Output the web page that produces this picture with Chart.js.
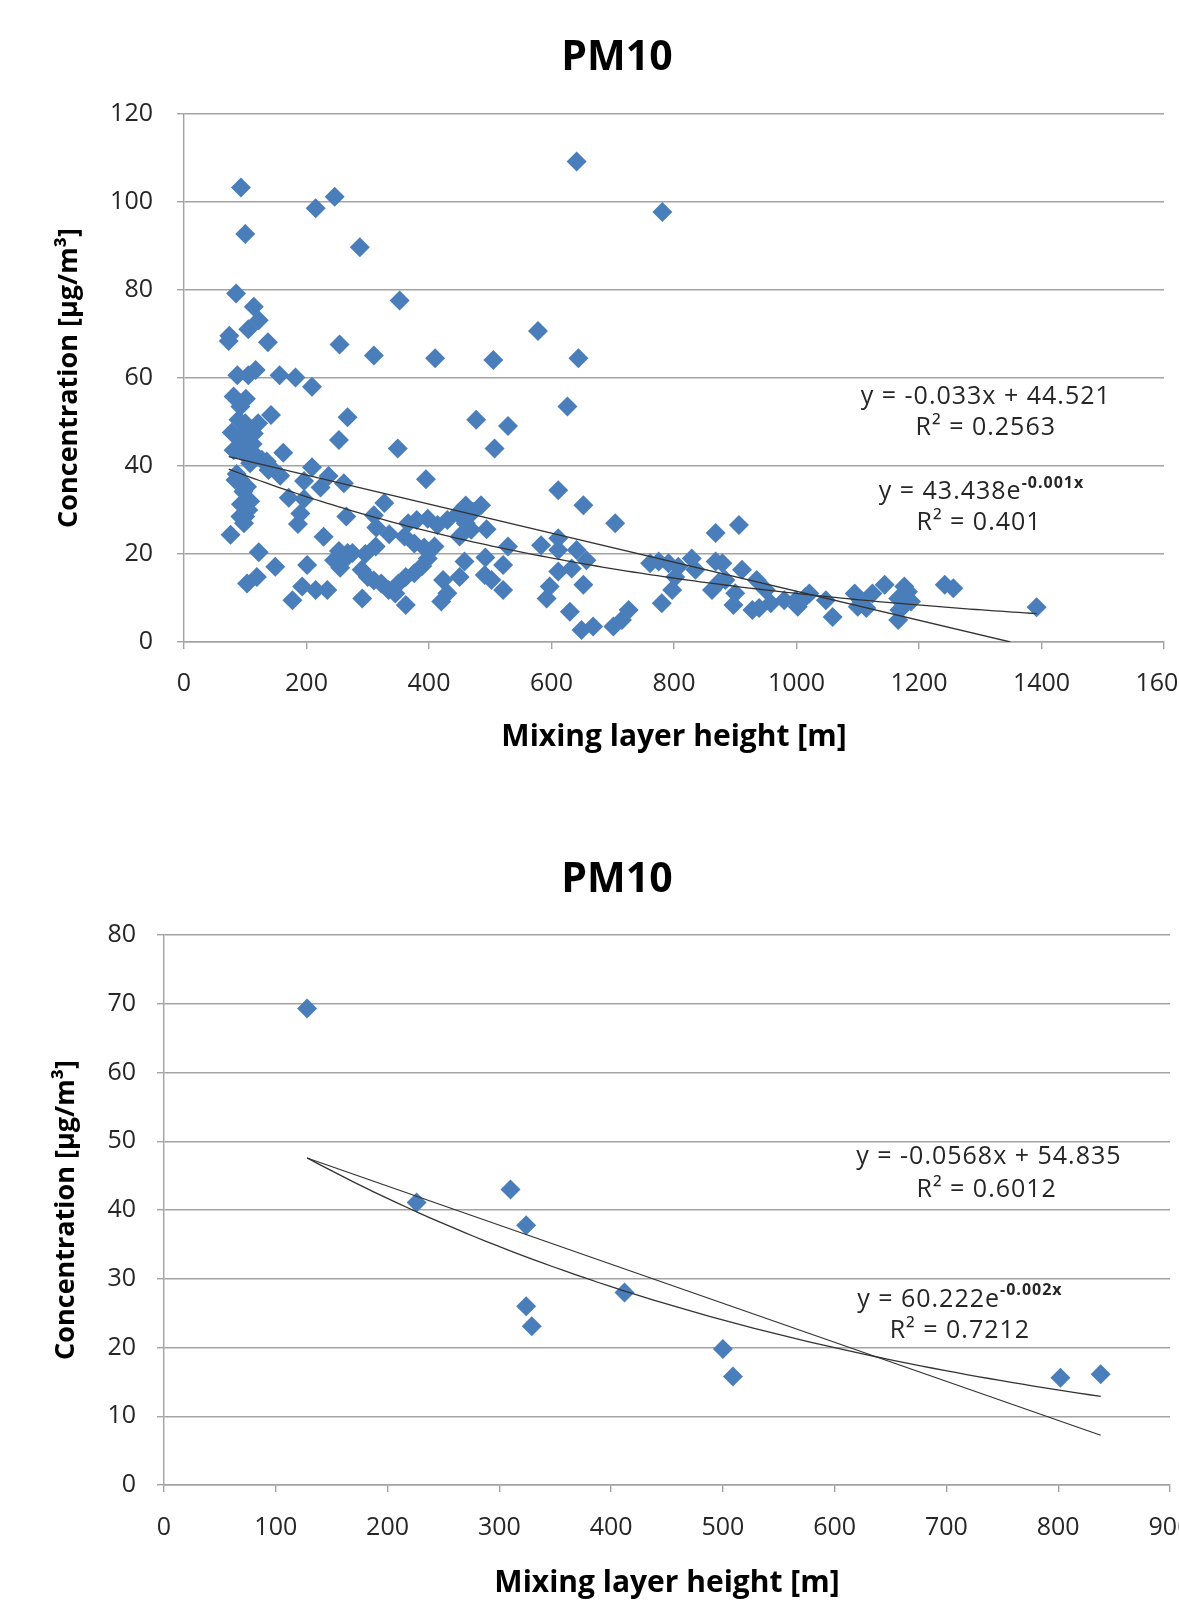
<!DOCTYPE html>
<html>
<head>
<meta charset="utf-8">
<script src="https://cdn.jsdelivr.net/npm/chart.js@4.4.1/dist/chart.umd.min.js"></script>
<style>
  html, body { margin: 0; padding: 0; background: #fff; width: 1179px; height: 1600px; overflow: hidden; }
  canvas { position: absolute; left: 0; }
  #topChart { top: 0; }
  #bottomChart { top: 800px; }
</style>
</head>
<body>
<canvas id="topChart" width="1220" height="780"></canvas>
<canvas id="bottomChart" width="1220" height="820"></canvas>
<script>
// mixing layer height [m] / concentration [ug/m3]
const topX = [
  93, 100, 215, 246, 287, 641, 781, 85, 114, 122, 105, 74, 73, 137, 352, 254, 310, 410, 578, 505, 644,
  87, 105, 117, 156, 182, 209, 81, 101, 92, 142, 267, 89, 100, 121, 78, 104, 114, 92, 253, 349, 477,
  529, 507, 626, 87, 81, 97, 111, 119, 127, 135, 162, 108, 112, 95, 141, 138, 209, 157, 236, 196, 223,
  261, 395, 92, 84, 86, 103, 97, 171, 196, 93, 105, 108, 327, 611, 652, 460, 485, 190, 186, 265, 100,
  92, 98, 76, 228, 310, 314, 335, 360, 366, 380, 398, 414, 430, 447, 472, 460, 469, 450, 494, 704, 868,
  906, 122, 253, 267, 275, 296, 313, 376, 392, 409, 529, 583, 611, 611, 641, 245, 261, 255, 149, 201,
  103, 119, 193, 215, 234, 290, 300, 310, 322, 334, 345, 350, 362, 376, 389, 398, 423, 430, 450, 458,
  492, 491, 521, 502, 521, 657, 633, 611, 597, 652, 761, 775, 791, 807, 829, 835, 802, 797, 868, 879,
  873, 862, 884, 911, 900, 935, 950, 1021, 1015, 1095, 1124, 1144, 1176, 1182, 1242, 1256, 177, 291,
  362, 420, 592, 630, 649, 668, 701, 715, 726, 780, 897, 928, 939, 958, 980, 999, 1002, 1048, 1059,
  1100, 1105, 1114, 1166, 1168, 1166, 1174, 1187, 1392
];
const topY = [
  103.3, 92.7, 98.6, 101.2, 89.7, 109.2, 97.7, 79.2, 76.2, 73.1, 71.1, 69.6, 68.4, 68.1, 77.6, 67.6, 65.1, 64.5, 70.7, 64.1, 64.5,
  60.6, 60.6, 61.8, 60.6, 60.1, 58.0, 55.8, 55.3, 53.5, 51.6, 51.1, 50.5, 49.7, 49.7, 47.6, 48.4, 47.4, 45.9, 45.9, 44.0, 50.5,
  49.1, 44.0, 53.5, 43.8, 43.6, 42.9, 42.1, 42.1, 41.4, 41.0, 43.0, 40.6, 45.0, 46.5, 39.8, 39.1, 39.7, 37.8, 37.7, 36.6, 35.1,
  36.1, 37.0, 36.8, 36.8, 38.2, 35.3, 34.2, 32.8, 32.5, 31.3, 30.0, 32.0, 31.6, 34.5, 31.1, 31.0, 31.1, 29.2, 26.8, 28.5, 28.5,
  28.5, 27.0, 24.4, 23.9, 28.8, 26.0, 24.5, 24.0, 27.0, 27.7, 28.0, 26.6, 27.7, 29.2, 29.6, 27.0, 25.5, 24.0, 25.6, 27.0, 24.8,
  26.6, 20.4, 20.7, 20.2, 20.2, 20.0, 21.7, 22.4, 21.5, 21.7, 21.7, 22.0, 23.6, 20.9, 20.9, 18.6, 18.6, 16.9, 17.1, 17.5,
  13.3, 14.8, 12.6, 11.8, 11.8, 16.4, 14.8, 14.0, 13.3, 11.8, 11.0, 13.3, 14.8, 15.6, 17.3, 19.0, 14.1, 11.1, 14.8, 18.3,
  19.2, 15.2, 17.5, 14.1, 11.8, 18.6, 16.7, 16.0, 12.6, 13.0, 17.9, 18.3, 17.9, 17.1, 19.0, 16.4, 14.8, 11.8, 18.3, 17.9,
  13.5, 11.8, 14.1, 16.4, 11.1, 14.1, 11.8, 11.0, 10.3, 11.0, 11.0, 13.0, 12.6, 11.4, 13.0, 12.2, 9.5, 9.9,
  8.4, 9.2, 9.9, 6.9, 2.7, 3.5, 3.5, 5.0, 7.3, 8.8, 8.4, 7.3, 7.7, 8.8, 9.5, 9.5, 8.0, 9.5, 5.7,
  8.0, 9.5, 7.7, 9.9, 7.3, 5.0, 8.0, 9.2, 7.9
];
const bottomX = [128, 226, 310, 324, 324, 329, 412, 500, 509, 802, 838];
const bottomY = [69.3, 41.1, 43.0, 37.8, 26.0, 23.1, 28.0, 19.8, 15.8, 15.6, 16.1];

// trend lines: [slope, intercept] and [coefficient, exponent]
// (exponent, the label shows it rounded)
const topLinear = [-0.033, 44.521];
const topExp = [43.438, -0.00137];
const bottomLinear = [-0.0568, 54.835];
const bottomExp = [60.222, -0.00184];

const FONT = "'Open Sans', sans-serif";
const GRID = '#a3a3a3';
const BLUE = '#4A7EBB';

function points(xs, ys) {
  return xs.map((x, i) => ({ x: x, y: ys[i] }));
}

function linearLine(c, x0, x1) {
  const xEnd = Math.min(x1, -c[1] / c[0]);
  return [{ x: x0, y: c[0] * x0 + c[1] }, { x: xEnd, y: c[0] * xEnd + c[1] }];
}

function expLine(c, x0, x1) {
  const out = [];
  for (let x = x0; x < x1; x += 10) out.push({ x: x, y: c[0] * Math.exp(c[1] * x) });
  out.push({ x: x1, y: c[0] * Math.exp(c[1] * x1) });
  return out;
}

const chartTexts = {
  id: 'chartTexts',
  afterDatasetsDraw(chart, args, opts) {
    const ctx = chart.ctx;
    const xs = chart.scales.x, ys = chart.scales.y;
    ctx.save();
    ctx.textBaseline = 'middle';
    ctx.fillStyle = '#000';
    ctx.textAlign = 'center';
    ctx.font = 'bold 41px ' + FONT;
    ctx.fillText(opts.title, opts.titleX, opts.titleY);

    ctx.fillStyle = '#262626';
    ctx.letterSpacing = '1px';
    opts.labels.forEach(l => {
      const px = xs.getPixelForValue(l.x);
      const py = ys.getPixelForValue(l.y);
      ctx.font = '25px ' + FONT;
      const w1 = ctx.measureText(l.text).width;
      let w2 = 0;
      if (l.sup) {
        ctx.font = 'bold 16px ' + FONT;
        w2 = ctx.measureText(l.sup).width;
      }
      const x0 = px - (w1 + w2) / 2;
      ctx.textAlign = 'left';
      ctx.font = '25px ' + FONT;
      ctx.fillText(l.text, x0, py);
      if (l.sup) {
        ctx.font = 'bold 16px ' + FONT;
        ctx.fillText(l.sup, x0 + w1, py - 9);
      }
    });
    ctx.restore();
  }
};

function makeConfig(o) {
  return {
    type: 'scatter',
    data: {
      datasets: [
        { data: o.lin, showLine: true, pointRadius: 0, borderColor: '#333', borderWidth: 1.3, fill: false },
        { data: o.exp, showLine: true, pointRadius: 0, borderColor: '#333', borderWidth: 1.3, fill: false },
        { data: o.pts, pointStyle: 'rectRot', pointRadius: 10, backgroundColor: BLUE, borderWidth: 0 }
      ]
    },
    options: {
      responsive: false,
      animation: false,
      devicePixelRatio: 1,
      layout: { padding: { left: 0, right: o.padRight, top: o.padTop, bottom: 0 } },
      plugins: {
        legend: { display: false },
        tooltip: { enabled: false },
        title: { display: false },
        chartTexts: { title: 'PM10', titleX: 617, titleY: o.titleY, labels: o.labels }
      },
      scales: {
        x: {
          type: 'linear', min: 0, max: o.xMax,
          ticks: { stepSize: o.xStep, padding: o.xTickPad, color: '#262626', format: { useGrouping: false }, font: { family: FONT, size: 25 } },
          grid: { drawOnChartArea: false, drawTicks: true, tickLength: 7, color: GRID, lineWidth: 1.4 },
          border: { color: GRID, width: 1.4 },
          title: {
            display: true, text: 'Mixing layer height [m]', color: '#000',
            font: { family: FONT, size: 30, weight: 'bold', lineHeight: 1.2 },
            padding: { top: 0, bottom: o.xTitlePad }
          },
          afterFit(s) { s.height = o.xHeight; }
        },
        y: {
          min: 0, max: o.yMax,
          ticks: { stepSize: 10 * Math.round(o.yMax / 60), padding: o.yTickPad, color: '#262626', font: { family: FONT, size: 25 } },
          grid: { color: GRID, lineWidth: 1.4, tickLength: 7 },
          border: { color: GRID, width: 1.4 },
          title: {
            display: true, text: 'Concentration [μg/m³]', color: '#000',
            font: { family: FONT, size: 27, weight: 'bold', lineHeight: 1.2 },
            padding: { top: o.yTitlePad, bottom: 0 }
          },
          afterFit(s) { s.width = o.yWidth; }
        }
      }
    },
    plugins: [chartTexts]
  };
}

new Chart(document.getElementById('topChart'), makeConfig({
  pts: points(topX, topY),
  lin: linearLine(topLinear, Math.min(...topX), Math.max(...topX)),
  exp: expLine(topExp, Math.min(...topX), Math.max(...topX)),
  xMax: 1600, xStep: 200, yMax: 120,
  padTop: 114, padRight: 56, titleY: 58,
  xHeight: 138, xTickPad: 20, xTitlePad: 25,
  yWidth: 184, yTickPad: 24, yTitlePad: 53,
  labels: [
    { x: 1309, y: 55.8, text: 'y = -0.033x + 44.521' },
    { x: 1309, y: 48.6, text: 'R² = 0.2563' },
    { x: 1302, y: 34.1, text: 'y = 43.438e', sup: '-0.001x' },
    { x: 1298, y: 27.1, text: 'R² = 0.401' }
  ]
}));

new Chart(document.getElementById('bottomChart'), makeConfig({
  pts: points(bottomX, bottomY),
  lin: linearLine(bottomLinear, Math.min(...bottomX), Math.max(...bottomX)),
  exp: expLine(bottomExp, Math.min(...bottomX), Math.max(...bottomX)),
  xMax: 900, xStep: 100, yMax: 80,
  padTop: 135, padRight: 50, titleY: 80,
  xHeight: 135, xTickPad: 21, xTitlePad: 19,
  yWidth: 164, yTickPad: 21, yTitlePad: 50,
  labels: [
    { x: 738, y: 47.8, text: 'y = -0.0568x + 54.835' },
    { x: 736, y: 43.0, text: 'R² = 0.6012' },
    { x: 712, y: 27.0, text: 'y = 60.222e', sup: '-0.002x' },
    { x: 712, y: 22.4, text: 'R² = 0.7212' }
  ]
}));
</script>
</body>
</html>
